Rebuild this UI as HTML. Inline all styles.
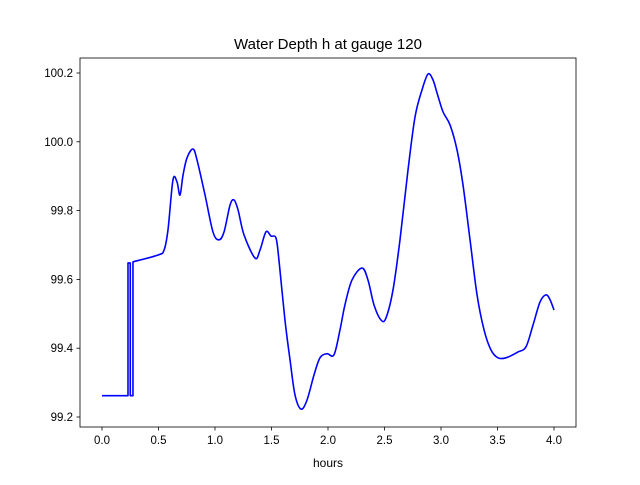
<!DOCTYPE html>
<html><head><meta charset="utf-8"><style>
body{margin:0;background:#fff;}
text{font-family:"Liberation Sans","DejaVu Sans",sans-serif;}
</style></head><body>
<svg id="chart" width="640" height="480" xmlns="http://www.w3.org/2000/svg"></svg>
<script>
const times=[0,0.23,0.23,0.25,0.25,0.274,0.274,0.496,0.549,0.584,0.628,0.664,0.69,0.717,0.752,0.805,0.841,0.912,0.982,1.035,1.08,1.133,1.168,1.204,1.257,1.354,1.398,1.451,1.496,1.54,1.566,1.619,1.664,1.708,1.761,1.814,1.876,1.929,1.991,2.053,2.106,2.15,2.212,2.301,2.354,2.407,2.469,2.513,2.575,2.637,2.708,2.77,2.832,2.885,2.929,2.965,3.018,3.08,3.142,3.195,3.257,3.319,3.381,3.442,3.504,3.575,3.681,3.752,3.814,3.876,3.929,3.965,4.0];
const depth=[99.262,99.262,99.648,99.648,99.262,99.262,99.651,99.671,99.685,99.744,99.889,99.883,99.845,99.903,99.953,99.979,99.947,99.845,99.738,99.715,99.738,99.816,99.831,99.802,99.729,99.662,99.685,99.738,99.726,99.72,99.656,99.482,99.366,99.264,99.223,99.249,99.322,99.372,99.384,99.381,99.453,99.526,99.598,99.633,99.598,99.526,99.482,99.488,99.569,99.715,99.918,100.072,100.151,100.197,100.18,100.142,100.087,100.049,99.976,99.874,99.715,99.555,99.453,99.395,99.372,99.372,99.389,99.404,99.467,99.534,99.555,99.541,99.511];
const xTicks=[0,0.5,1.0,1.5,2.0,2.5,3.0,3.5,4.0];
const xTickLabels=["0.0","0.5","1.0","1.5","2.0","2.5","3.0","3.5","4.0"];
const yTicks=[99.2,99.4,99.6,99.8,100.0,100.2];
const yTickLabels=["99.2","99.4","99.6","99.8","100.0","100.2"];

const svg=document.getElementById('chart');
const NS="http://www.w3.org/2000/svg";
const L=80,R=576,T=58,B=427;
function xs(t){return 102+(t-0)*(554-102)/4;}
function ys(v){return 417+(v-99.2)*(73-417)/1.0;}
function mk(tag,attrs,name){const e=document.createElementNS(NS,tag);for(const k in attrs)e.setAttribute(k,attrs[k]);


svg.appendChild(e);return e;}

const P=times.map((t,i)=>[xs(t),ys(depth[i])]);
const f=v=>v.toFixed(2);
let d='M'+f(P[0][0])+','+f(P[0][1]);
const S=6;
for(let i=1;i<=S;i++) d+='L'+f(P[i][0])+','+f(P[i][1]);
for(let i=S;i<P.length-1;i++){
  const p0=P[Math.max(S,i-1)],p1=P[i],p2=P[i+1],p3=P[Math.min(P.length-1,i+2)];
  const c1=[p1[0]+(p2[0]-p0[0])/6,p1[1]+(p2[1]-p0[1])/6];
  const c2=[p2[0]-(p3[0]-p1[0])/6,p2[1]-(p3[1]-p1[1])/6];
  d+='C'+f(c1[0])+','+f(c1[1])+' '+f(c2[0])+','+f(c2[1])+' '+f(p2[0])+','+f(p2[1]);
}
mk('path',{d:d,fill:'none',stroke:'#0000ff','stroke-width':1.6,'stroke-linejoin':'round'},'depth-line');
mk('rect',{x:L,y:T,width:R-L,height:B-T,fill:'none',stroke:'#000','stroke-width':0.8},'plot-frame');
xTicks.forEach((t,i)=>{const x=xs(t);
mk('line',{x1:x,x2:x,y1:B,y2:B+3.5,stroke:'#000','stroke-width':0.8},'x-tick');
const tx=mk('text',{x:x,y:B+17,'font-size':'11.5','text-anchor':'middle'},'x-tick-label');tx.textContent=xTickLabels[i];});
yTicks.forEach((v,i)=>{const y=ys(v);
mk('line',{x1:L-3.5,x2:L,y1:y,y2:y,stroke:'#000','stroke-width':0.8},'y-tick');
const tx=mk('text',{x:L-7,y:y+4,'font-size':'11.5','text-anchor':'end'},'y-tick-label');tx.textContent=yTickLabels[i];});
const ti=mk('text',{x:328,y:49,'font-size':'15','text-anchor':'middle'},'chart-title');ti.textContent='Water Depth h at gauge 120';
const xl=mk('text',{x:328,y:467,'font-size':'12','text-anchor':'middle'},'x-axis-title');xl.textContent='hours';
</script>
</body></html>
